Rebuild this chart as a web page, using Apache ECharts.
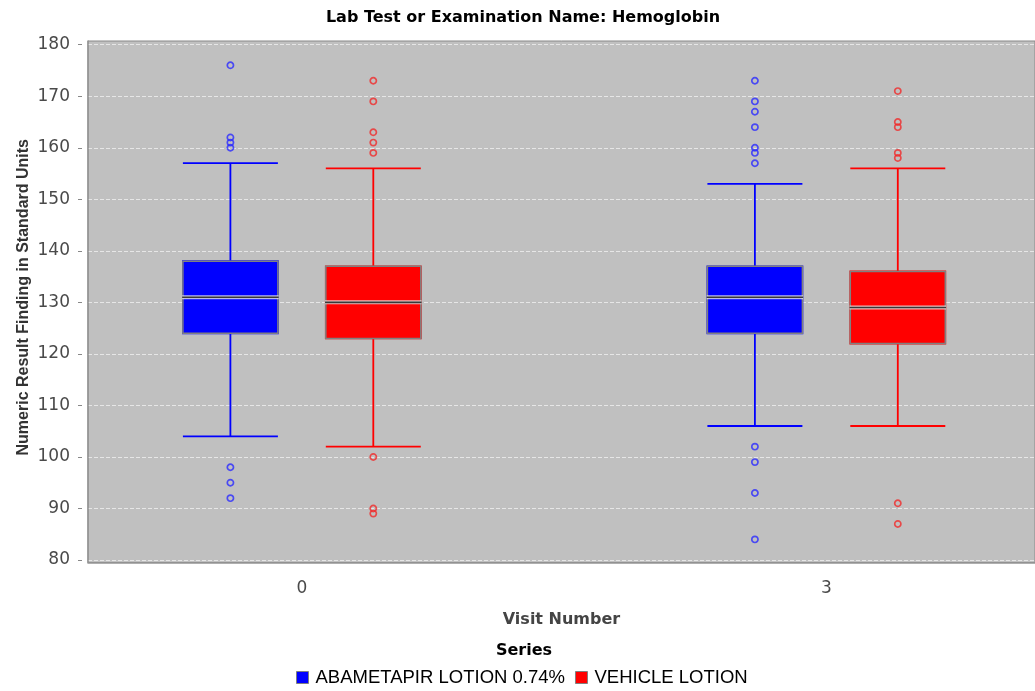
<!DOCTYPE html>
<html><head><meta charset="utf-8">
<script src="https://cdn.jsdelivr.net/npm/echarts@6/dist/echarts.min.js"></script>
<style>html,body{margin:0;padding:0;background:#fff}#c{width:1035px;height:691px}</style>
</head><body><div id="c"></div>
<script>
// ---- data ----
const categories = ['0', '3'];
const seriesNames = ['ABAMETAPIR LOTION 0.74%', 'VEHICLE LOTION'];
// [lower whisker, Q1, median, Q3, upper whisker]
const abametapirBox = [[104, 124, 131, 138, 157], [106, 124, 131, 137, 153]];
const vehicleBox = [[102, 123, 130, 137, 156], [106, 122, 129, 136, 156]];
const abametapirOutliers = [[176, 162, 161, 160, 98, 95, 92], [173, 169, 167, 164, 160, 159, 157, 102, 99, 93, 84]];
const vehicleOutliers = [[173, 169, 163, 161, 159, 100, 90, 89], [171, 165, 164, 159, 158, 91, 87]];
const yMin = 80, yMax = 180, yInterval = 10;

// ---- styles ----
const FONT = 'DejaVu Sans';
const FONT2 = 'Liberation Sans';
const seriesColors = ['#0000ff', '#ff0000'];
const outlierColors = ['#2a2aff', '#f02a2a'];
const BOX_W = 95;
const CAT_SPAN = 524.5;
const DATA_TOP = 44.7, DATA_H = 515.3;
const groupLeft = [230.4, 373.3];
const TEXT_CENTER_X = 523;

// each boxplot series gets its own (hidden) axis pair so it is centred on its own offset
const groups = [
  { name: seriesNames[0], box: abametapirBox, out: abametapirOutliers, whiskerAxis: 3, boxAxis: 5 },
  { name: seriesNames[1], box: vehicleBox, out: vehicleOutliers, whiskerAxis: 4, boxAxis: 6 }
];

function textWidth(str, font) {
  const ctx = document.createElement('canvas').getContext('2d');
  ctx.font = font;
  return ctx.measureText(str).width;
}

const hiddenY = (gi) => ({ gridIndex: gi, type: 'value', min: yMin, max: yMax, interval: yInterval, show: false });
const hiddenX = (gi) => ({ gridIndex: gi, type: 'category', data: categories, boundaryGap: false, show: false });

const series = [];
groups.forEach((g, i) => {
  series.push({
    name: g.name, type: 'boxplot', xAxisIndex: g.whiskerAxis, yAxisIndex: g.whiskerAxis,
    data: g.box, boxWidth: [BOX_W, BOX_W], silent: true,
    itemStyle: { color: seriesColors[i], borderColor: seriesColors[i], borderWidth: 1.8 },
    emphasis: { disabled: true }
  });
});
groups.forEach((g, i) => {
  series.push({
    name: g.name + ' box', type: 'boxplot', xAxisIndex: g.boxAxis, yAxisIndex: g.boxAxis,
    data: g.box.map(d => [d[1], d[1], d[2], d[3], d[3]]), boxWidth: [BOX_W, BOX_W], silent: true,
    itemStyle: { color: seriesColors[i], borderColor: '#808080', borderWidth: 1.5 },
    emphasis: { disabled: true }
  });
  series.push({
    name: g.name + ' median-a', type: 'scatter', xAxisIndex: g.boxAxis, yAxisIndex: g.boxAxis,
    data: g.box.map((d, ci) => [categories[ci], d[2]]), symbol: 'rect', symbolSize: [BOX_W + 1.5, 4],
    itemStyle: { color: '#e8e8e8' }, silent: true, clip: false, emphasis: { disabled: true }
  });
  series.push({
    name: g.name + ' median-b', type: 'scatter', xAxisIndex: g.boxAxis, yAxisIndex: g.boxAxis,
    data: g.box.map((d, ci) => [categories[ci], d[2]]), symbol: 'rect', symbolSize: [BOX_W + 1.5, 1.6],
    itemStyle: { color: '#111' }, silent: true, clip: false, emphasis: { disabled: true }
  });
  series.push({
    name: g.name + ' outliers', type: 'scatter', xAxisIndex: g.boxAxis, yAxisIndex: g.boxAxis,
    data: g.out.flatMap((vals, ci) => vals.map(v => [categories[ci], v])),
    symbol: 'circle', symbolSize: 6.2, clip: false, silent: true,
    itemStyle: { color: 'rgba(0,0,0,0)', borderColor: outlierColors[i], borderWidth: 1.7 },
    emphasis: { disabled: true }
  });
});

const axisLineStyle = { color: '#959595', width: 1.5 };
const seriesGrid = (left) => ({ left: left, top: DATA_TOP, width: CAT_SPAN, height: DATA_H });

const titleText = 'Lab Test or Examination Name: Hemoglobin';
const titleFont = 'bold 16px "DejaVu Sans"';
const legendTitle = 'Series';

const option = {
  animation: false,
  backgroundColor: '#ffffff',
  title: [
    { text: titleText, left: TEXT_CENTER_X - textWidth(titleText, titleFont) / 2, top: 10, padding: 0,
      textStyle: { fontFamily: FONT, fontWeight: 'bold', fontSize: 16, color: '#000' } },
    { text: legendTitle, left: TEXT_CENTER_X + 1 - textWidth(legendTitle, titleFont) / 2, top: 643, padding: 0,
      textStyle: { fontFamily: FONT, fontWeight: 'bold', fontSize: 16, color: '#000' } }
  ],
  legend: {
    data: seriesNames.map((n, i) => ({ name: n, icon: 'rect', itemStyle: { color: seriesColors[i], borderColor: '#808080', borderWidth: 1 } })),
    left: 296, top: 668, padding: 0, itemWidth: 12, itemHeight: 12, itemGap: 10,
    selectedMode: false,
    textStyle: { fontFamily: FONT2, fontSize: 18.5, color: '#000', padding: [0, 0, 0, 2] }
  },
  grid: [
    { left: 88, top: 41, width: 953, height: 521.5, show: true, backgroundColor: '#c0c0c0', borderColor: '#888888', borderWidth: 1 },
    { left: 88, top: DATA_TOP, width: 953, height: DATA_H },
    { left: 301.9, top: DATA_TOP, width: CAT_SPAN, height: DATA_H },
    seriesGrid(groupLeft[0]),
    seriesGrid(groupLeft[1]),
    seriesGrid(groupLeft[0]),
    seriesGrid(groupLeft[1])
  ],
  xAxis: [
    { gridIndex: 0, type: 'value', min: 0, max: 1, position: 'bottom', offset: 6,
      axisLine: { show: true, lineStyle: axisLineStyle }, axisTick: { show: false }, axisLabel: { show: false }, splitLine: { show: false },
      name: 'Visit Number', nameLocation: 'middle', nameGap: 43,
      nameTextStyle: { fontFamily: FONT, fontWeight: 'bold', fontSize: 16, color: '#444' } },
    { gridIndex: 1, type: 'category', data: categories, show: false },
    { gridIndex: 2, type: 'category', data: categories, boundaryGap: false,
      axisLine: { show: false }, axisTick: { show: false }, splitLine: { show: false },
      axisLabel: { margin: 20, fontFamily: FONT, fontSize: 17, color: '#4a4a4a' } },
    hiddenX(3), hiddenX(4), hiddenX(5), hiddenX(6)
  ],
  yAxis: [
    { gridIndex: 0, type: 'value', min: 0, max: 1, offset: 6,
      axisLine: { show: true, lineStyle: axisLineStyle }, axisTick: { show: false }, axisLabel: { show: false }, splitLine: { show: false },
      name: 'Numeric Result Finding in Standard Units', nameLocation: 'middle', nameGap: 50, nameRotate: 90,
      nameTextStyle: { fontFamily: FONT2, fontWeight: 'bold', fontSize: 16, color: '#333', padding: [0, 0, 0, 9] } },
    { gridIndex: 1, type: 'value', min: yMin, max: yMax, interval: yInterval, offset: 6,
      axisLine: { show: false },
      axisTick: { show: true, length: 4, lineStyle: { color: '#888', width: 1 } },
      axisLabel: { margin: 12, fontFamily: FONT, fontSize: 17, color: '#4a4a4a' },
      splitLine: { show: true, lineStyle: { color: '#e6e6e6', type: [4, 2], width: 1 } } },
    hiddenY(2), hiddenY(3), hiddenY(4), hiddenY(5), hiddenY(6)
  ],
  series: series
};

const chart = echarts.init(document.getElementById('c'), null, { renderer: 'canvas' });
chart.setOption(option);
</script>
</body></html>
